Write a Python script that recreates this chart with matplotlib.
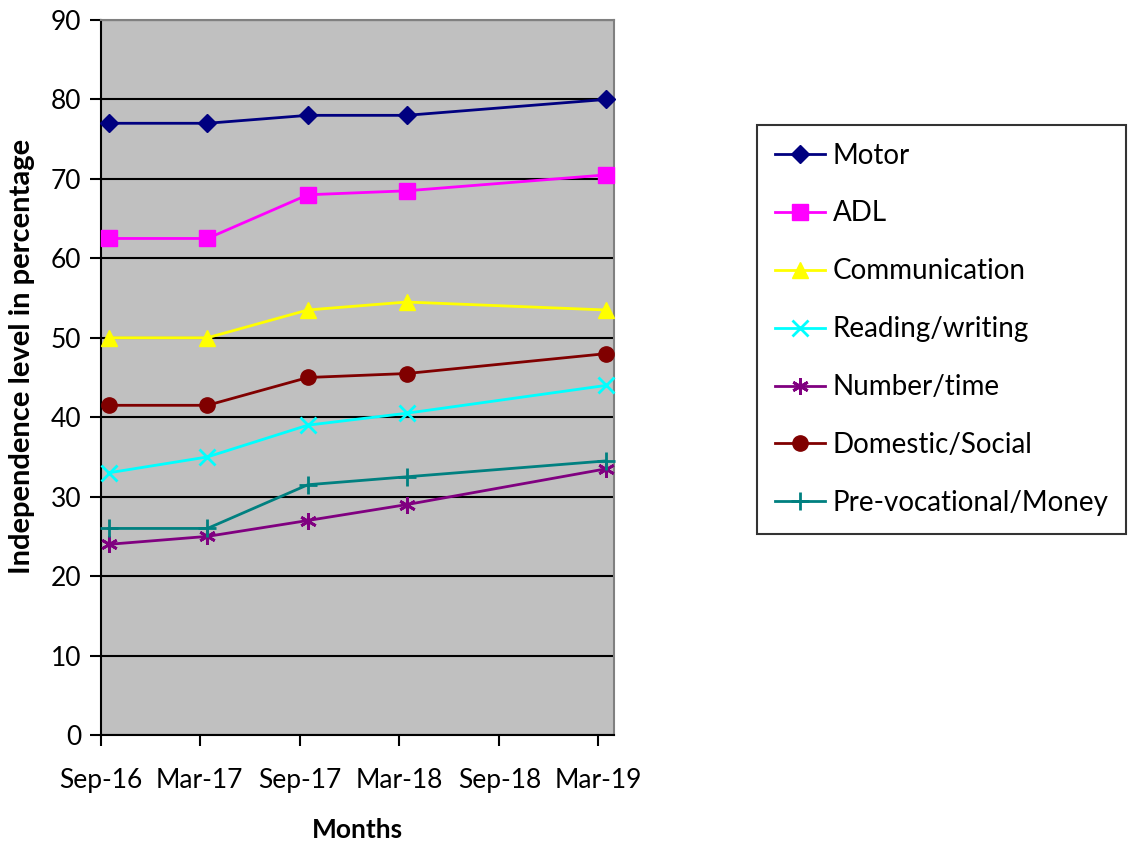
import matplotlib
matplotlib.use('Agg')
import matplotlib.pyplot as plt
import matplotlib.dates as mdates
from datetime import date

plt.rcParams['font.family'] = ['Lato', 'DejaVu Sans']

# 数据
months = [date(2016, 9, 15), date(2017, 3, 15), date(2017, 9, 15), date(2018, 3, 15), date(2019, 3, 15)]
motor = [77, 77, 78, 78, 80]
adl = [62.5, 62.5, 68, 68.5, 70.5]
communication = [50, 50, 53.5, 54.5, 53.5]
reading = [33, 35, 39, 40.5, 44]
number_time = [24, 25, 27, 29, 33.5]
domestic = [41.5, 41.5, 45, 45.5, 48]
prevoc = [26, 26, 31.5, 32.5, 34.5]

tick_dates = [date(2016, 9, 1), date(2017, 3, 1), date(2017, 9, 1), date(2018, 3, 1), date(2018, 9, 1), date(2019, 3, 1)]

fig = plt.figure(figsize=(11.28, 8.47), dpi=100)
ax = fig.add_axes([101 / 1128, 1 - 735 / 847, 513 / 1128, 715 / 847])
ax.set_facecolor('#c0c0c0')

series = [
    ('Motor', motor, '#000080', 'D', 9),
    ('ADL', adl, '#ff00ff', 's', 11),
    ('Communication', communication, '#ffff00', '^', 11),
    ('Reading/writing', reading, '#00ffff', 'x', 11),
    ('Number/time', number_time, '#800080', (6, 2, 0), 12),
    ('Domestic/Social', domestic, '#800000', 'o', 11),
    ('Pre-vocational/Money', prevoc, '#008080', '+', 13),
]
for name, vals, col, mk, ms in series:
    ax.plot(months, vals, color=col, marker=mk, markersize=ms, lw=2,
            markeredgewidth=2 if mk in ('x', '+') or isinstance(mk, tuple) else 1,
            label=name, clip_on=False, zorder=3)

ax.set_ylim(0, 90)
ax.set_yticks(range(0, 91, 10))
ax.set_xlim(date(2016, 9, 1), date(2019, 3, 30))
ax.set_xticks(tick_dates)
ax.xaxis.set_major_formatter(mdates.DateFormatter('%b-%y'))
ax.grid(axis='y', color='black', lw=1.5, zorder=1)
ax.set_axisbelow(True)

for s in ('left', 'bottom'):
    ax.spines[s].set_color('black')
    ax.spines[s].set_linewidth(1.5)
for s in ('top', 'right'):
    ax.spines[s].set_color('#808080')
    ax.spines[s].set_linewidth(1.5)

ax.tick_params(axis='both', labelsize=19, direction='out', length=8, width=1.5)
ax.tick_params(axis='x', pad=16)
ax.tick_params(axis='y', pad=6)
ax.set_xlabel('Months', fontsize=19, fontweight='bold', labelpad=18)
ax.set_ylabel('Independence level in percentage', fontsize=21, fontweight='bold')
ax.yaxis.set_label_coords(-0.128, 0.53)

leg = ax.legend(loc='upper left', bbox_to_anchor=(757 / 1128, 1 - 125 / 847),
                bbox_transform=fig.transFigure, fontsize=20, frameon=True,
                fancybox=False, edgecolor='black', labelspacing=1.15,
                handlelength=1.8, handletextpad=0.3, borderpad=0.63,
                borderaxespad=0)
leg.get_frame().set_linewidth(1.5)

plt.savefig('out.png', dpi=100)
